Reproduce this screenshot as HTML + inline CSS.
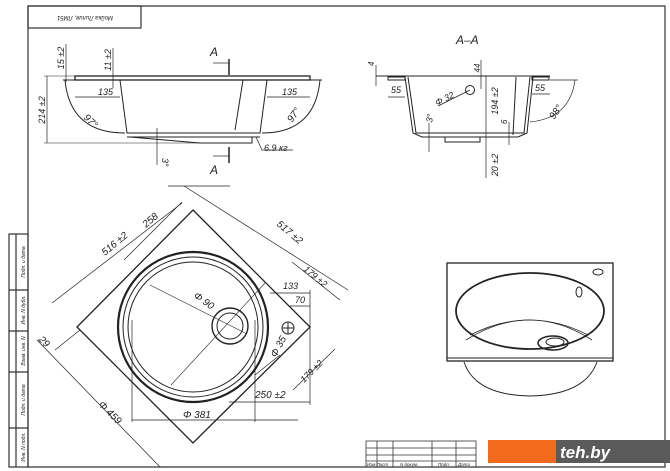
<!DOCTYPE html>
<html><head><meta charset="utf-8"><style>
html,body{margin:0;padding:0;background:#fff;}
svg{display:block;font-family:"Liberation Sans",sans-serif;}
text{font-style:italic;fill:#222;}
</style></head><body>
<svg width="670" height="471" viewBox="0 0 670 471" xmlns="http://www.w3.org/2000/svg">
<rect width="670" height="471" fill="#fff"/>
<!-- frame -->
<g stroke="#333" fill="none" stroke-width="1.2">
<polyline points="28,467 28,6 665,6 665,467 28,467"/>
<rect x="28" y="6" width="113" height="22"/>
<rect x="9" y="234" width="19" height="233"/>
<line x1="16" y1="234" x2="16" y2="467"/>
<line x1="9" y1="290" x2="28" y2="290"/>
<line x1="9" y1="331" x2="28" y2="331"/>
<line x1="9" y1="372" x2="28" y2="372"/>
<line x1="9" y1="428" x2="28" y2="428"/>
</g>
<text x="85" y="20" font-size="6" text-anchor="middle" transform="rotate(180 85 18)">Мойка Лилия, ЛМ51</text>
<g font-size="5">
<text transform="translate(25,262) rotate(-90)" text-anchor="middle">Подп. и дата</text>
<text transform="translate(25,310) rotate(-90)" text-anchor="middle">Инв. N дубл.</text>
<text transform="translate(25,351) rotate(-90)" text-anchor="middle">Взам. инв. N</text>
<text transform="translate(25,400) rotate(-90)" text-anchor="middle">Подп. и дата</text>
<text transform="translate(25,447) rotate(-90)" text-anchor="middle">Инв. N подл.</text>
</g>

<!-- top-left side view -->
<g stroke="#222" fill="none" stroke-width="1">
<rect x="75" y="76" width="235" height="4" stroke-width="1.3"/>
<line x1="63" y1="80" x2="322" y2="80"/>
<polyline points="120,80 127,133 260,133 267,80"/>
<line x1="243" y1="80" x2="235" y2="130"/>
<line x1="127" y1="137" x2="260" y2="137"/>
<polyline points="130,137 200,143 252,143 252,137"/>
<path d="M65,80 Q70,133 125,133"/>
<path d="M320,80 Q315,133 262,133"/>
<line x1="44" y1="76" x2="75" y2="76" stroke-width="0.6"/>
<line x1="44" y1="143" x2="250" y2="143" stroke-width="0.6"/>
<line x1="47" y1="76" x2="47" y2="143" stroke-width="0.7"/>
<line x1="75" y1="97" x2="120" y2="97" stroke-width="0.7"/>
<line x1="267" y1="97" x2="310" y2="97" stroke-width="0.7"/>
<line x1="66" y1="44" x2="66" y2="82" stroke-width="0.7"/>
<line x1="113" y1="48" x2="113" y2="88" stroke-width="0.7"/>
<line x1="157" y1="128" x2="157" y2="165" stroke-width="0.7"/>
<line x1="229" y1="59" x2="229" y2="75" stroke-width="1.5"/>
<line x1="213" y1="63" x2="229" y2="63" stroke-width="0.7"/>
<line x1="229" y1="147" x2="229" y2="163" stroke-width="1.5"/>
<line x1="213" y1="156" x2="229" y2="156" stroke-width="0.7"/>
<polyline points="256,137 262,150 293,150" stroke-width="0.7"/>
</g>
<text x="210" y="56" font-size="12" font-style="normal">A</text>
<text x="210" y="174" font-size="12" font-style="normal">A</text>
<text x="98" y="95" font-size="9">135</text>
<text x="282" y="95" font-size="9">135</text>
<text x="264" y="151" font-size="9">6.9 кг</text>
<text transform="translate(45,110) rotate(-90)" font-size="9" text-anchor="middle">214 ±2</text>
<text transform="translate(64,58) rotate(-90)" font-size="9" text-anchor="middle">15 ±2</text>
<text transform="translate(111,60) rotate(-90)" font-size="9" text-anchor="middle">11 ±2</text>
<text transform="translate(83,118) rotate(45)" font-size="10">97°</text>
<text transform="translate(292,123) rotate(-55)" font-size="10">97°</text>
<text transform="translate(162,158) rotate(90)" font-size="9">3°</text>

<!-- section A-A -->
<text x="456" y="44" font-size="12" font-style="normal">A–A</text>
<g stroke="#222" fill="none" stroke-width="1">
<line x1="376" y1="76" x2="550" y2="76"/>
<rect x="388" y="77" width="17" height="3"/>
<rect x="532" y="77" width="17" height="3"/>
<polyline points="405,77 413,133 422,137 518,137 527,133 533,77"/>
<polyline points="408,77 416,133 524,133 530,77"/>
<line x1="516" y1="77" x2="513" y2="135"/>
<rect x="445" y="137" width="35" height="5"/>
<circle cx="470" cy="90" r="4.5"/>
<line x1="438" y1="106" x2="470" y2="90" stroke-width="0.7"/>
<line x1="376" y1="65" x2="376" y2="86" stroke-width="0.7"/>
<line x1="486" y1="76" x2="486" y2="178" stroke-width="0.7"/>
<line x1="481" y1="60" x2="481" y2="89" stroke-width="0.7"/>
<line x1="388" y1="97" x2="405" y2="97" stroke-width="0.7"/>
<line x1="532" y1="94" x2="550" y2="94" stroke-width="0.7"/>
<path d="M575,80 Q570,118 530,122" stroke-width="0.7"/>
<line x1="550" y1="80" x2="578" y2="80" stroke-width="0.7"/>
<line x1="429" y1="123" x2="429" y2="152" stroke-width="0.7"/>
<line x1="509" y1="122" x2="509" y2="145" stroke-width="0.7"/>
</g>
<text x="391" y="93" font-size="9" font-style="normal">55</text>
<text x="535" y="91" font-size="9" font-style="normal">55</text>
<text transform="translate(437,106) rotate(-27)" font-size="9">Φ 32</text>
<text transform="translate(374,66) rotate(-90)" font-size="8">4</text>
<text transform="translate(480,68) rotate(-90)" font-size="8" text-anchor="middle">44</text>
<text transform="translate(498,101) rotate(-90)" font-size="9" text-anchor="middle">194 ±2</text>
<text transform="translate(507,124) rotate(-90)" font-size="8">6</text>
<text transform="translate(498,165) rotate(-90)" font-size="9" text-anchor="middle">20 ±2</text>
<text transform="translate(432,123) rotate(-80)" font-size="9">3°</text>
<text transform="translate(554,120) rotate(-55)" font-size="10">98°</text>

<!-- plan view diamond -->
<g stroke="#222" fill="none" stroke-width="1">
<polygon points="193,210 310,327 193,443 77,327" stroke-width="1.3"/>
<circle cx="193" cy="327" r="75" stroke-width="2.2"/>
<circle cx="193" cy="327" r="70"/>
<circle cx="193" cy="327" r="65"/>
<circle cx="230" cy="326" r="18" stroke-width="1.4"/>
<circle cx="230" cy="326" r="13"/>
<circle cx="288" cy="328" r="6"/>
<line x1="282" y1="328" x2="294" y2="328"/>
<line x1="288" y1="322" x2="288" y2="334"/>
<line x1="150" y1="285" x2="247" y2="334" stroke-width="0.6"/>
<line x1="171" y1="385" x2="265" y2="283" stroke-width="0.6"/>
<g stroke-width="0.7">
<line x1="52" y1="303" x2="182" y2="203"/>
<line x1="124" y1="260" x2="182" y2="202"/>
<line x1="184" y1="186" x2="348" y2="290"/>
<line x1="168" y1="186" x2="230" y2="186"/>
<line x1="292" y1="262" x2="340" y2="300"/>
<line x1="270" y1="293" x2="310" y2="293"/>
<line x1="290" y1="306" x2="310" y2="306"/>
<line x1="293" y1="390" x2="335" y2="349"/>
<line x1="229" y1="402" x2="310" y2="402"/>
<line x1="132" y1="420" x2="298" y2="420"/>
<line x1="132" y1="320" x2="132" y2="422"/>
<line x1="255" y1="320" x2="255" y2="422"/>
<line x1="310" y1="290" x2="310" y2="405"/>
<line x1="37" y1="340" x2="160" y2="467"/>
<line x1="55" y1="350" x2="80" y2="330"/>
<line x1="280" y1="355" x2="255" y2="375"/>
</g>
</g>
<text transform="translate(105,256) rotate(-40)" font-size="10">516 ±2</text>
<text transform="translate(146,228) rotate(-40)" font-size="10">258</text>
<text transform="translate(276,225) rotate(40)" font-size="10">517 ±2</text>
<text transform="translate(303,270) rotate(40)" font-size="9">179 ±2</text>
<text transform="translate(304,383) rotate(-45)" font-size="9">179 ±2</text>
<text x="283" y="289" font-size="9">133</text>
<text x="295" y="303" font-size="9">70</text>
<text transform="translate(193,297) rotate(35)" font-size="10">Φ 90</text>
<text transform="translate(276,358) rotate(-62)" font-size="10">Φ 35</text>
<text x="255" y="398" font-size="10">250 ±2</text>
<text x="183" y="418" font-size="10">Φ 381</text>
<text transform="translate(98,405) rotate(45)" font-size="10">Φ 459</text>
<text transform="translate(38,340) rotate(45)" font-size="10">29</text>

<!-- perspective view -->
<g stroke="#222" fill="none">
<rect x="447" y="263" width="166" height="98" stroke-width="1.3"/>
<line x1="447" y1="358" x2="613" y2="358"/>
<ellipse cx="530" cy="311" rx="74" ry="38" stroke-width="1.8"/>
<path d="M470,335 Q530,305 588,335" stroke-width="0.8"/>
<path d="M466,340 Q530,300 592,340" stroke-width="0.8"/>
<ellipse cx="553" cy="343" rx="15" ry="7" stroke-width="1.5"/>
<ellipse cx="555" cy="342" rx="9" ry="4"/>
<ellipse cx="598" cy="272" rx="5" ry="3"/>
<ellipse cx="579" cy="292" rx="3" ry="5"/>
<path d="M464,362 Q475,395 530,396 Q585,395 597,362" stroke-width="1"/>
</g>

<!-- title block -->
<g stroke="#333" fill="none" stroke-width="0.8">
<rect x="366" y="441" width="110" height="26"/>
<line x1="366" y1="448" x2="476" y2="448"/>
<line x1="366" y1="455" x2="476" y2="455"/>
<line x1="366" y1="461" x2="476" y2="461"/>
<line x1="377" y1="441" x2="377" y2="467"/>
<line x1="393" y1="441" x2="393" y2="467"/>
<line x1="432" y1="441" x2="432" y2="467"/>
<line x1="456" y1="441" x2="456" y2="467"/>
</g>
<g font-size="4.5"><text x="367" y="466">Изм.Лист</text><text x="400" y="466">N докум.</text><text x="438" y="466">Подп.</text><text x="458" y="466">Дата</text></g>
<rect x="488" y="440" width="68" height="23" fill="#f26a1b"/>
<rect x="556" y="440" width="114" height="23" fill="#5a5a5a"/>
<text x="560" y="458" font-size="17" font-style="normal" font-weight="bold" fill="#fff" style="fill:#fff">teh.by</text>
</svg>
</body></html>
